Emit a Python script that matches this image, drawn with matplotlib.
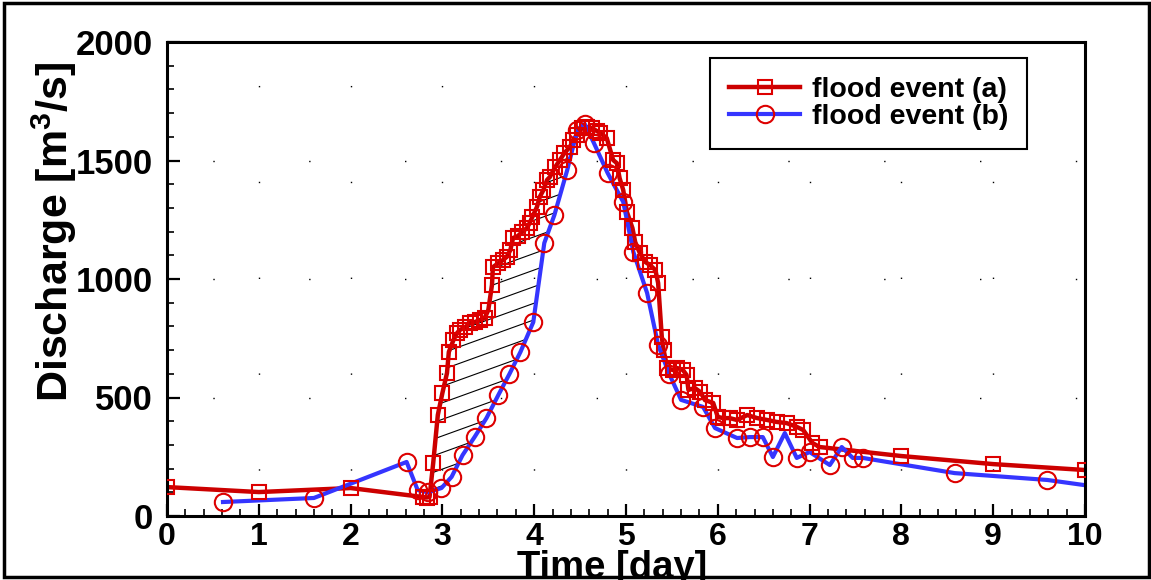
import numpy as np
import matplotlib
matplotlib.use('Agg')
import matplotlib.pyplot as plt
from matplotlib.lines import Line2D
from matplotlib.patches import Polygon, Rectangle
from matplotlib.ticker import MultipleLocator

# ---------------- data ----------------
time_a = [0.0, 1.0, 2.0, 2.79, 2.83, 2.86, 2.9, 2.95, 3.0, 3.05, 3.07, 3.12, 3.16,
          3.19, 3.25, 3.3, 3.35, 3.41, 3.46, 3.5, 3.54, 3.55, 3.61, 3.66, 3.7,
          3.74, 3.77, 3.82, 3.87, 3.92, 3.95, 3.98, 4.03, 4.06, 4.10, 4.14, 4.17,
          4.23, 4.28, 4.33, 4.39, 4.42, 4.47, 4.52, 4.58, 4.63, 4.68, 4.72, 4.79,
          4.86, 4.9, 4.93, 4.97, 5.01, 5.07, 5.1, 5.15, 5.21, 5.26, 5.32, 5.35,
          5.39, 5.41, 5.45, 5.51, 5.56, 5.62, 5.66, 5.68, 5.75, 5.81, 5.86, 5.95,
          6.0, 6.06, 6.13, 6.21, 6.32, 6.43, 6.54, 6.64, 6.75, 6.86, 6.93, 7.03,
          7.11, 8.0, 9.0, 10.0]
flow_a = [122, 101, 118, 80, 78, 80, 224, 426, 519, 603, 692, 742, 772,
          785, 797, 814, 818, 827, 835, 869, 975, 1050, 1067, 1080, 1093,
          1122, 1173, 1181, 1198, 1215, 1236, 1262, 1304, 1346, 1375, 1418, 1430,
          1473, 1502, 1532, 1557, 1586, 1608, 1637, 1641, 1637, 1625, 1616, 1595,
          1502, 1489, 1426, 1375, 1283, 1215, 1156, 1110, 1072, 1059, 1038, 983,
          755, 700, 624, 616, 624, 616, 595, 532, 540, 523, 489, 477,
          418, 413, 413, 405, 426, 413, 405, 397, 392, 376, 363, 308,
          291, 253, 219, 194]

time_b = [0.61, 1.6, 2.61, 2.73, 2.84, 2.99, 3.1, 3.22, 3.35, 3.48, 3.61, 3.73,
          3.85, 3.99, 4.11, 4.22, 4.36, 4.47, 4.55, 4.65, 4.8, 4.97, 5.08, 5.23,
          5.35, 5.47, 5.6, 5.84, 5.97, 6.21, 6.35, 6.49, 6.6, 6.73, 6.86, 7.0,
          7.22, 7.35, 7.47, 7.58, 8.58, 9.59, 10.0]
flow_b = [59, 76, 228, 110, 100, 118, 165, 257, 333, 413, 511, 599,
          692, 818, 1152, 1270, 1460, 1630, 1654, 1574, 1447, 1325, 1114, 941,
          722, 600, 490, 460, 371, 329, 333, 333, 249, 350, 245, 270,
          215, 291, 245, 245, 181, 152, 130]
# points of series (b) drawn without a symbol
b_no_symbol = [6.73, 10.0]

x_ticks = list(range(0, 11))
y_ticks = [0, 500, 1000, 1500, 2000]
series_labels = ['flood event (a)', 'flood event (b)']
x_label = 'Time [day]'
y_label = r'Discharge [m$^\mathbf{3}$/s]'

# ---------------- style ----------------
RED = '#CC0000'
MRED = '#DD0000'
BLUE = '#3535FF'

plt.rcParams['font.family'] = ['Liberation Sans', 'DejaVu Sans']
plt.rcParams['font.weight'] = 'bold'
plt.rcParams['mathtext.fontset'] = 'custom'
plt.rcParams['mathtext.bf'] = 'Liberation Sans:bold'
plt.rcParams['mathtext.rm'] = 'Liberation Sans:bold'
plt.rcParams['mathtext.default'] = 'bf'

W, H = 1151, 580
fig = plt.figure(figsize=(W / 100, H / 100), dpi=100)
ax = fig.add_axes([167 / W, 64 / H, 918 / W, 474 / H])

ta, fa = np.array(time_a), np.array(flow_a, float)
tb, fb = np.array(time_b), np.array(flow_b, float)

# lines below symbols
ax.plot(ta, fa, color=RED, lw=3.2, zorder=2, solid_joinstyle='round')
ax.plot(tb, fb, color=BLUE, lw=3.0, zorder=2.1, solid_joinstyle='round')
ax.plot(ta, fa, ls='none', marker='s', ms=9.5, mfc='none', mec=MRED, mew=1.5, zorder=3)
mk_b = [i for i, t in enumerate(time_b) if t not in b_no_symbol]
ax.plot(tb, fb, ls='none', marker='o', ms=12.5, mfc='none', mec=MRED, mew=1.5,
        markevery=mk_b, zorder=3.1)

# hatched region between the two hydrographs (where a > b on the rising limb)
xg = np.union1d(ta, tb)
xg = xg[(xg >= 2.86) & (xg <= 4.6)]
ya = np.interp(xg, ta, fa)
yb = np.interp(xg, tb, fb)
yb = np.minimum(ya, yb)
verts = np.vstack([np.column_stack([xg, ya]), np.column_stack([xg[::-1], yb[::-1]])])
clip_poly = Polygon(verts, closed=True, fill=False, edgecolor='none', transform=ax.transData)
ax.add_patch(clip_poly)
slope = 140.0   # discharge units per day (shallow hatching)
xs = np.array([2.5, 5.0])
for c in np.arange(-600, 1800, 70):
    ln, = ax.plot(xs, c + slope * (xs - 2.8), color='k', lw=0.8, zorder=1.8)
    ln.set_clip_path(clip_poly)

# axes
ax.set_xlim(0, 10)
ax.set_ylim(0, 2000)
ax.set_xticks(x_ticks)
ax.set_yticks(y_ticks)
ax.xaxis.set_minor_locator(MultipleLocator(0.2))
ax.yaxis.set_minor_locator(MultipleLocator(100))
ax.tick_params(axis='both', which='major', direction='in', length=9, width=1.6,
               top=False, right=False)
ax.tick_params(axis='both', which='minor', direction='in', length=5, width=1.2,
               top=False, right=False)
ax.tick_params(axis='x', labelsize=23, pad=4)
ax.tick_params(axis='y', labelsize=25, pad=10)
for lab in ax.get_xticklabels() + ax.get_yticklabels():
    lab.set_fontweight('bold')
for sp in ax.spines.values():
    sp.set_linewidth(2.2)

# sparse dotted grid
ax.grid(True, which='major', color='k', linewidth=1.0, linestyle=(36, (1, 68)))

ax.set_xlabel(x_label, fontsize=27.5, fontweight='bold')
ax.xaxis.set_label_coords(0.485, -0.071)
ax.set_ylabel(y_label, fontsize=31, fontweight='bold')
ax.yaxis.set_label_coords(-0.096, 0.6)

# legend
handles = [
    Line2D([], [], color=RED, lw=3.2, marker='s', ms=9.5, mfc='none', mec=MRED, mew=1.5),
    Line2D([], [], color=BLUE, lw=3.0, marker='o', ms=12.5, mfc='none', mec=MRED, mew=1.5),
]
leg = ax.legend(handles, series_labels, loc='upper right',
                bbox_to_anchor=(0.9368, 0.966), borderaxespad=0,
                fancybox=False, framealpha=1, edgecolor='k',
                prop={'family': ['Liberation Sans', 'DejaVu Sans'], 'weight': 'bold', 'size': 20.5},
                handlelength=2.5, handletextpad=0.42, labelspacing=0.06,
                borderpad=0.65)
leg.get_frame().set_linewidth(1.5)

# figure border
fig.patches.append(Rectangle((4 / W, 3 / H), 1145 / W, 574 / H, transform=fig.transFigure,
                             fill=False, edgecolor='k', lw=2.5))

fig.savefig('out.png', dpi=100)
